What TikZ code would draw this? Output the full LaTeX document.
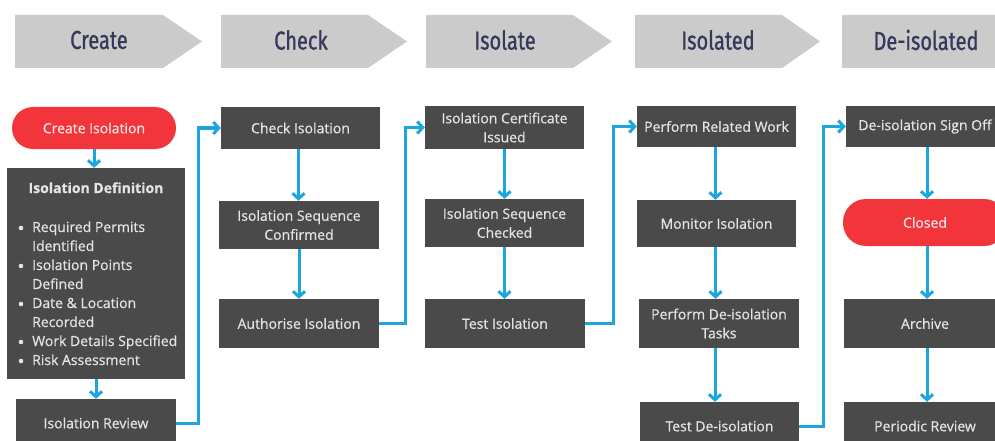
\documentclass[tikz,border=0pt]{standalone}
\usepackage{fontspec}
\setmainfont[FakeBold=0.6]{Open Sans}
\newfontfamily\bodyfont[FakeBold=0.6]{Open Sans}
\newfontfamily\headfont[FakeStretch=0.77,FakeBold=0.9]{Fira Sans}
\usetikzlibrary{arrows.meta,calc}
\definecolor{hdr}{HTML}{CBCBCB}
\definecolor{hdrtxt}{HTML}{38385A}
\definecolor{boxc}{HTML}{4A4A4A}
\definecolor{boxtxt}{HTML}{E4E4E4}
\definecolor{pillc}{HTML}{F2353A}
\definecolor{pilltxt}{HTML}{FFE6E6}
\definecolor{connc}{HTML}{1BA6DF}
\begin{document}
\begin{tikzpicture}[x=1pt,y=-1pt,
  hdrshape/.style={fill=hdr},
  htext/.style={text=hdrtxt,font=\headfont\fontsize{26}{28}\selectfont,inner sep=0pt},
  stepbox/.style={fill=boxc,text=boxtxt,align=center,inner sep=0pt,font=\bodyfont\fontsize{14}{19}\selectfont},
  pillbox/.style={fill=pillc,text=pilltxt,rounded corners=21pt,inner sep=0pt,align=center,font=\bodyfont\fontsize{14}{19}\selectfont},
  conn/.style={draw=connc,line width=3pt,-{Straight Barb[length=5.5pt,width=12pt,line width=3pt]}},
  btext/.style={text=boxtxt,font=\bodyfont\fontsize{14}{19}\selectfont,anchor=base west,inner sep=0pt},
  bdot/.style={fill=boxtxt},
]
\useasboundingbox (0,0) rectangle (995,441);
\fill[white] (0,0) rectangle (995,441);
\clip (0,0) rectangle (995,441);

% header chevrons
\fill[hdrshape] (15,15) -- (163,15) -- (202,41.5) -- (163,68) -- (15,68) -- cycle;
\fill[hdrshape] (221,15) -- (368,15) -- (407,41.5) -- (368,68) -- (221,68) -- cycle;
\fill[hdrshape] (426,15) -- (573,15) -- (612,41.5) -- (573,68) -- (426,68) -- cycle;
\fill[hdrshape] (635,15) -- (782,15) -- (820,41.5) -- (782,68) -- (635,68) -- cycle;
\fill[hdrshape] (842,15) -- (1010,15) -- (1049,41.5) -- (1010,68) -- (842,68) -- cycle;
\node[htext] (h1) at (99,40) {Create};
\node[htext] (h2) at (301,40) {Check};
\node[htext] (h3) at (505,40) {Isolate};
\node[htext] (h4) at (718,40) {Isolated};
\node[htext] (h5) at (926,40) {De-isolated};

% column 1
\node[pillbox,minimum width=164pt,minimum height=42pt] (ci) at (94,128) {Create Isolation};
\node[stepbox,minimum width=178pt,minimum height=211pt] (idef) at (96,273.5) {};
\node[text=boxtxt,inner sep=0pt,anchor=base,font=\bodyfont\bfseries\fontsize{14}{19}\selectfont] (idt) at (96,193) {Isolation Definition};
\node[btext] (b1) at (32,232) {Required Permits};
\node[btext] (b1b) at (32,251) {Identified};
\node[btext] (b2) at (32,270) {Isolation Points};
\node[btext] (b2b) at (32,289) {Defined};
\node[btext] (b3) at (32,308) {Date \& Location};
\node[btext] (b3b) at (32,327) {Recorded};
\node[btext] (b4) at (32,346) {Work Details Specified};
\node[btext] (b5) at (32,365) {Risk Assessment};
\foreach \yy in {228,266,304,342,361} \fill[bdot] (21,\yy) circle (2.3pt);
\node[stepbox,minimum width=160pt,minimum height=48pt] (ir) at (96,423) {Isolation Review};

% column 2
\node[stepbox,minimum width=159pt,minimum height=42pt] (chk) at (300.5,128) {Check Isolation};
\node[stepbox,minimum width=160pt,minimum height=48pt] (isc) at (299,225) {Isolation Sequence\\Confirmed};
\node[stepbox,minimum width=160pt,minimum height=49pt] (auth) at (299,323.5) {Authorise Isolation};

% column 3
\node[stepbox,minimum width=159pt,minimum height=43pt] (cert) at (504.5,127.5) {Isolation Certificate\\Issued};
\node[stepbox,minimum width=159pt,minimum height=48pt] (isch) at (504.5,223) {Isolation Sequence\\Checked};
\node[stepbox,minimum width=160pt,minimum height=49pt] (test) at (505,323.5) {Test Isolation};

% column 4
\node[stepbox,minimum width=159pt,minimum height=41pt] (prw) at (716.5,126.5) {Perform Related Work};
\node[stepbox,minimum width=159pt,minimum height=47pt] (mon) at (716.5,223.5) {Monitor Isolation};
\node[stepbox,minimum width=160pt,minimum height=49pt] (pdt) at (719,323.5) {Perform De-isolation\\Tasks};
\node[stepbox,minimum width=159pt,minimum height=48pt] (tdi) at (719.5,426) {Test De-isolation};

% column 5
\node[stepbox,minimum width=158pt,minimum height=41pt] (dso) at (925,126.5) {De-isolation Sign Off};
\node[pillbox,minimum width=164pt,minimum height=47pt,rounded corners=23pt] (cls) at (925,222.5) {Closed};
\node[stepbox,minimum width=162pt,minimum height=49pt] (arch) at (925,323.5) {Archive};
\node[stepbox,minimum width=162pt,minimum height=48pt] (per) at (925,426) {Periodic Review};

% vertical connectors
\draw[conn] (ci.south) -- (ci.south |- idef.north);
\draw[conn] (idef.south) -- (idef.south |- ir.north);
\draw[conn] ([xshift=-2pt]chk.south) -- ([xshift=-2pt]chk.south |- isc.north);
\draw[conn] (isc.south) -- (isc.south |- auth.north);
\draw[conn] (cert.south) -- (cert.south |- isch.north);
\draw[conn] (isch.south) -- (isch.south |- test.north);
\draw[conn] ([xshift=-1pt]prw.south) -- ([xshift=-1pt]prw.south |- mon.north);
\draw[conn] ([xshift=-1pt]mon.south) -- ([xshift=-1pt]mon.south |- pdt.north);
\draw[conn] ([xshift=-4pt]pdt.south) -- ([xshift=-4pt]pdt.south |- tdi.north);
\draw[conn] ([xshift=2pt]dso.south) -- ([xshift=2pt]dso.south |- cls.north);
\draw[conn] ([xshift=2pt]cls.south) -- ([xshift=2pt]cls.south |- arch.north);
\draw[conn] ([xshift=2pt]arch.south) -- ([xshift=2pt]arch.south |- per.north);

% column-to-column connectors
\draw[conn] (ir.east) -- ++(22,0) |- (chk.west);
\draw[conn] (auth.east) -- ++(26,0) |- (cert.west);
\draw[conn] (test.east) -- ++(28,0) |- (prw.west);
\draw[conn] (tdi.east) -- ++(24,0) |- (dso.west);
\end{tikzpicture}
\end{document}
